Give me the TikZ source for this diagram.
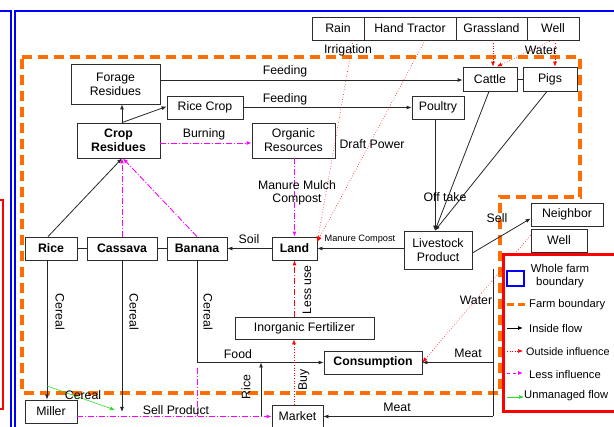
\documentclass[tikz,border=0pt]{standalone}
\usepackage{fontspec}
\setmainfont{Liberation Sans}
\usetikzlibrary{arrows.meta,calc}
\definecolor{farmorange}{RGB}{255,110,0}
\definecolor{boxgray}{RGB}{45,45,45}
\definecolor{mag}{RGB}{255,0,255}
\definecolor{ured}{RGB}{255,0,0}
\definecolor{ugreen}{RGB}{40,220,40}
\definecolor{wblue}{RGB}{0,0,255}
\begin{document}
\begin{tikzpicture}[x=1pt,y=-1pt,
  font=\fontsize{12.3}{14}\selectfont,
  box/.style={draw=boxgray, line width=0.8pt, fill=white, inner sep=0pt, align=center},
  flow/.style={draw=black!85, line width=0.8pt},
  tip/.style={-{Latex[length=5pt,width=4pt]}},
  outside/.style={draw=ured, line width=0.6pt, dotted, -{Latex[length=5pt,width=4pt]}},
  lessflow/.style={draw=mag, line width=0.9pt, dash pattern=on 6pt off 2pt on 1pt off 2pt, -{Latex[length=5pt,width=4pt]}},
  lbl/.style={inner sep=0pt},
  small/.style={inner sep=0pt, font=\fontsize{9.2}{11}\selectfont},
  leg/.style={inner sep=0pt, anchor=west, font=\fontsize{11.2}{13}\selectfont},
  farm/.style={draw=farmorange, line width=3.5pt, dash pattern=on 10pt off 6pt}
]
\useasboundingbox (0,0) rectangle (614,427);

% outer boundaries
\draw[wblue, line width=2pt] (-5,11) -- (11,11) -- (11,435);
\draw[wblue, line width=2pt] (15,435) -- (15,11) -- (625,11);
\draw[ured, line width=2pt] (-5,200) -- (3,200) -- (3,409) -- (-5,409);

% farm boundary
\draw[farm] (22,57) -- (580,57) -- (580,197) -- (500,197) -- (500,393) -- (22,393) -- cycle;

% nodes
\node[box, minimum width=52pt, minimum height=23pt] (rain) at (338,28.5) {Rain};
\node[box, minimum width=92pt, minimum height=23pt] (tractor) at (410,28.5) {Hand Tractor};
\node[box, minimum width=71pt, minimum height=23pt] (grass) at (491.5,28.5) {Grassland};
\node[box, minimum width=52pt, minimum height=23pt] (well) at (553,28.5) {Well};

\node[box, minimum width=54pt, minimum height=24pt] (cattle) at (490,79) {Cattle};
\node[box, minimum width=54pt, minimum height=24pt] (pigs) at (550,79) {Pigs};
\node[box, minimum width=52pt, minimum height=23pt] (poultry) at (438,107.5) {Poultry};

\node[box, minimum width=89pt, minimum height=40pt] (forage) at (115.5,84) {Forage\\Residues};
\node[box, minimum width=76pt, minimum height=23pt] (ricecrop) at (205,107.5) {Rice Crop};
\node[box, minimum width=83pt, minimum height=35pt, font=\fontsize{12.3}{14}\selectfont\bfseries] (cropres) at (118.5,140.5) {Crop\\Residues};
\node[box, minimum width=83pt, minimum height=35pt] (organic) at (293.5,140.5) {Organic\\Resources};

\node[box, minimum width=52pt, minimum height=23pt, font=\fontsize{12.3}{14}\selectfont\bfseries] (rice) at (51,248.5) {Rice};
\node[box, minimum width=70pt, minimum height=23pt, font=\fontsize{12.3}{14}\selectfont\bfseries] (cassava) at (122,248.5) {Cassava};
\node[box, minimum width=60pt, minimum height=23pt, font=\fontsize{12.3}{14}\selectfont\bfseries] (banana) at (197,248.5) {Banana};
\node[box, minimum width=45pt, minimum height=23pt, font=\fontsize{12.3}{14}\selectfont\bfseries] (land) at (294.5,248.5) {Land};
\node[box, minimum width=68pt, minimum height=38pt] (livestock) at (438,250) {Livestock\\Product};
\node[box, minimum width=72pt, minimum height=23pt] (neighbor) at (567,214.5) {Neighbor};
\node[box, minimum width=56pt, minimum height=23pt] (well2) at (559,240.5) {Well};

\node[box, minimum width=139pt, minimum height=22pt] (inorg) at (304.5,328) {Inorganic Fertilizer};
\node[box, minimum width=98pt, minimum height=23pt, font=\fontsize{12.3}{14}\selectfont\bfseries] (consumption) at (373,362.5) {Consumption};
\node[box, minimum width=52pt, minimum height=23pt] (miller) at (51,411.5) {Miller};
\node[box, minimum width=51pt, minimum height=23pt] (market) at (297.5,416.5) {Market};

% connectors between adjacent boxes
\draw[flow] (rice.east) -- (cassava.west);
\draw[flow] (cassava.east) -- (banana.west);
\draw[flow] (cattle.east) -- (pigs.west);

% inside flows
\draw[flow,tip] ([yshift=4pt]forage.east) -- ([yshift=4pt]forage.east -| cattle.west);
\draw[flow,tip] (ricecrop.east) -- (poultry.west);
\draw[flow,tip] ([xshift=3.5pt]cropres.north) -- ([xshift=3.5pt]cropres.north |- forage.south);
\draw[flow,tip] ([xshift=3.5pt]cropres.north) -- ([yshift=1pt]ricecrop.west);
\draw[flow,tip] ([xshift=-3pt]rice.north) -- ([xshift=3.5pt]cropres.south);
\draw[flow,tip] (land.west) -- (banana.east);
\draw[flow,tip] (livestock.west |- land.east) -- (land.east);

\coordinate (lv) at ([xshift=-3pt]livestock.north);
\draw[flow,tip] ([xshift=-1pt]cattle.south) -- (lv);
\draw[flow,tip] ([xshift=-3pt]pigs.south) -- (lv);
\draw[flow,tip] (lv |- poultry.south) -- (lv);
\draw[flow,tip] ([yshift=-3pt]livestock.east) -- ([yshift=-4pt]neighbor.west);

\draw[flow,tip] ([xshift=-4pt]rice.south) -- ([xshift=-4pt]miller.north);
\coordinate (cassend) at (122,412);
\draw[flow,tip] (cassava.south) -- (cassend);
\coordinate (foodj) at (banana.south |- consumption.west);
\draw[flow,tip] (banana.south) -- (foodj) -- (consumption.west);

\coordinate (mtop) at (493,269);
\draw[flow] (mtop) -- (mtop |- market.east);
\draw[flow,tip] (mtop |- consumption.east) -- (consumption.east);
\draw[flow,tip] (mtop |- market.east) -- (market.east);

\coordinate (ricebot) at (261,416.5);
\draw[flow,tip] (ricebot) -- (ricebot |- consumption.west);

% less influence
\draw[lessflow] ([yshift=-2.5pt]cropres.east) -- ([yshift=-2.5pt]organic.west);
\draw[lessflow] (land.north |- organic.south) -- (land.north);
\draw[lessflow] (cassava.north) -- ([xshift=3.5pt]cropres.south);
\draw[lessflow] (banana.north) -- ([xshift=4.5pt]cropres.south);
\draw[lessflow] (miller.east |- market.west) -- (market.west);
\draw[draw=mag, line width=0.9pt, dash pattern=on 6pt off 2pt on 1pt off 2pt] ([yshift=-6pt]foodj) -- (foodj |- market.west);

% outside influence
\coordinate (landin) at ([yshift=-5pt]land.north east);
\draw[outside] ([xshift=15pt]rain.south) -- (landin);
\draw[outside] ([xshift=15pt]tractor.south) -- (landin);
\draw[outside] ([xshift=1.5pt]grass.south) -- ([xshift=1.5pt]grass.south |- cattle.north);
\draw[outside] ([xshift=-1pt]well.south) -- ([xshift=7pt]cattle.north);
\draw[outside] ([xshift=2pt]well.south) -- ([xshift=2pt]well.south |- pigs.north);
\draw[outside] ([yshift=5pt]well2.west) -- (consumption.east);
\draw[outside] ([xshift=-3.5pt]market.north) -- ([xshift=-3.5pt]market.north |- inorg.south);
\draw[draw=ured, line width=0.8pt, dash pattern=on 6pt off 2pt on 1pt off 2pt, -{Latex[length=5pt,width=4pt]}] (land.south |- inorg.north) -- (land.south);

% unmanaged flow
\coordinate (g1) at (47,386);
\coordinate (g2) at (115,410);
\draw[draw=ugreen, line width=0.6pt, -{Latex[length=5pt,width=4pt]}] (g1) -- (g2);

% labels
\node[lbl] (lf1) at (285,71) {Feeding};
\node[lbl] (lf2) at (285,99) {Feeding};
\node[lbl] (lburn) at (204,134) {Burning};
\node[lbl, align=center, font=\fontsize{12.3}{13}\selectfont] (lmmc) at (297,192.5) {Manure Mulch\\Compost};
\node[lbl] (ldraft) at (372,144) {Draft Power};
\node[lbl] (lirr) at (348,50) {Irrigation};
\node[lbl] (lwat1) at (541,50) {Water};
\node[lbl] (loff) at (445,197) {Off take};
\node[lbl] (lsell) at (497,218) {Sell};
\node[lbl] (lsoil) at (249,239) {Soil};
\node[small] (lmc) at (360,239) {Manure Compost};
\node[lbl, rotate=90] (lless) at (307,290) {Less use};
\node[lbl, rotate=-90] (lc1) at (60,312) {Cereal};
\node[lbl, rotate=-90] (lc2) at (134,312) {Cereal};
\node[lbl, rotate=-90] (lc3) at (208,312) {Cereal};
\node[lbl] (lfood) at (238,354) {Food};
\node[lbl, rotate=90] (lrice) at (246,387) {Rice};
\node[lbl, rotate=90] (lbuy) at (304,380) {Buy};
\node[lbl] (lwat2) at (476,300) {Water};
\node[lbl] (lmeat1) at (468,353) {Meat};
\node[lbl] (lmeat2) at (397,407) {Meat};
\node[lbl] (lsp) at (176,410) {Sell Product};
\node[lbl] (lc4) at (83,395) {Cereal};

% legend
\draw[ured, line width=3pt, fill=white] (503,255) rectangle (625,412);
\draw[wblue, line width=2.5pt] (507,271) rectangle (524,286);
\node[lbl, align=center, font=\fontsize{11.4}{13}\selectfont] (lg1) at (560,276) {Whole farm\\boundary};
\draw[farmorange, line width=3pt, dash pattern=on 7pt off 4pt] (507,305) -- (527,305);
\node[leg] (lg2) at (529,305) {Farm boundary};
\draw[black, line width=0.8pt, -{Latex[length=5pt,width=4pt]}] (507,328) -- (523,328);
\node[leg] (lg3) at (529,329) {Inside flow};
\draw[ured, line width=0.6pt, dotted, -{Latex[length=5pt,width=4pt]}] (507,351) -- (523,351);
\node[leg, font=\fontsize{10.8}{13}\selectfont] (lg4) at (526,352) {Outside influence};
\draw[mag, line width=0.9pt, dashed, -{Latex[length=5pt,width=4pt]}] (507,373) -- (523,373);
\node[leg] (lg5) at (529,374) {Less influence};
\draw[ugreen, line width=0.6pt, -{Latex[length=5pt,width=4pt]}] (507,397) -- (524,397);
\node[leg] (lg6) at (524,396) {Unmanaged flow};
\end{tikzpicture}
\end{document}
